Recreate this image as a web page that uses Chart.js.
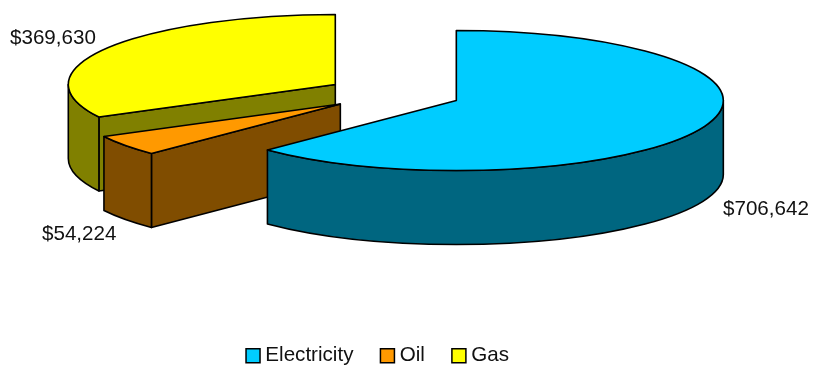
<!DOCTYPE html>
<html>
<head>
<meta charset="utf-8">
<title>Energy costs</title>
<script src="https://cdn.jsdelivr.net/npm/chart.js@4"></script>
<style>
    html, body { margin: 0; padding: 0; background: #fff; overflow: hidden; }
    canvas { display: block; }
</style>
</head>
<body>
<canvas id="pieChart" width="813" height="367"></canvas>
<script>
const categories = ['Electricity', 'Oil', 'Gas'];
const costs = [706642, 54224, 369630];
const topColors = ['#00ccff', '#ff9900', '#ffff00'];
const wallColors = ['#006680', '#804d00', '#808000'];

const FONT = '20.6px "Liberation Sans", Arial, sans-serif';

// Chart.js only knows flat pies, so this takes the arc geometry it computed
// and paints each slice as a squashed disc with an extruded wall.
const tiltedPie = {
    id: 'tiltedPie',
    beforeDatasetDraw(chart, args, opts) {
        const ctx = chart.ctx;
        const arcs = chart.getDatasetMeta(0).data;

        // Gas first, electricity last, so nearer slices cover the ones behind
        [...arcs.keys()].reverse().forEach(i => {
            const arc = arcs[i];
            const { x, y, startAngle, endAngle, outerRadius: r } = arc.getProps(['x', 'y', 'startAngle', 'endAngle', 'outerRadius'], true);
            const mid = (startAngle + endAngle) / 2;
            const explode = arc.options.offset;
            const cx = x + opts.shiftX + Math.cos(mid) * explode;
            const cy = opts.centerY + Math.sin(mid) * explode * opts.squash;
            const ry = r * opts.squash;
            const ptX = a => cx + Math.cos(a) * r;
            const ptY = a => cy + Math.sin(a) * ry;

            ctx.save();
            ctx.lineWidth = opts.lineWidth;
            ctx.lineJoin = 'round';
            ctx.strokeStyle = '#000';

            const paint = (color, trace) => {
                ctx.beginPath();
                trace();
                ctx.closePath();
                ctx.fillStyle = color;
                ctx.fill();
                ctx.stroke();
            };
            const cutFace = a => paint(wallColors[i], () => {
                ctx.moveTo(cx, cy);
                ctx.lineTo(ptX(a), ptY(a));
                ctx.lineTo(ptX(a), ptY(a) + opts.depth);
                ctx.lineTo(cx, cy + opts.depth);
            });

            // cut faces are only seen when they turn towards the viewer
            if (-Math.cos(startAngle) > 1e-6) cutFace(startAngle);
            if (Math.cos(endAngle) > 1e-6) cutFace(endAngle);

            // outer wall: the part of the rim on the front half of the ellipse
            const from = Math.max(startAngle, 0);
            const to = Math.min(endAngle, Math.PI);
            if (to > from) {
                paint(wallColors[i], () => {
                    ctx.ellipse(cx, cy, r, ry, 0, from, to);
                    ctx.ellipse(cx, cy + opts.depth, r, ry, 0, to, from, true);
                });
            }

            // top of the slice
            paint(topColors[i], () => {
                ctx.moveTo(cx, cy);
                ctx.ellipse(cx, cy, r, ry, 0, startAngle, endAngle);
            });
            ctx.restore();
        });

        // value labels
        ctx.save();
        ctx.font = FONT;
        ctx.fillStyle = '#111';
        ctx.textBaseline = 'alphabetic';
        costs.forEach((v, i) => {
            const [lx, ly] = opts.labelAt[i];
            ctx.fillText('$' + v.toLocaleString('en-US'), lx, ly);
        });
        ctx.restore();

        return false; // the flat arcs stay undrawn
    }
};

new Chart(document.getElementById('pieChart'), {
    type: 'pie',
    data: {
        labels: categories,
        datasets: [{
            data: costs,
            backgroundColor: topColors,
            borderColor: '#000',
            borderWidth: 1.5,
            radius: 267,
            offset: [68, 66, 68]
        }]
    },
    plugins: [tiltedPie],
    options: {
        responsive: false,
        animation: false,
        layout: { padding: { right: 53, bottom: -9 } },
        plugins: {
            tooltip: { enabled: false },
            legend: {
                position: 'bottom',
                labels: {
                    font: { family: '"Liberation Sans", Arial, sans-serif', size: 20.6 },
                    color: '#111',
                    usePointStyle: true,
                    pointStyle: 'rect',
                    boxWidth: 4,
                    boxHeight: 14,
                    padding: 32
                }
            },
            tiltedPie: {
                shiftX: 13.5,
                centerY: 93.7,
                squash: 70 / 267,
                depth: 74,
                lineWidth: 1.6,
                labelAt: [[723, 215], [42, 240], [10, 44]]
            }
        }
    }
});
</script>
</body>
</html>
